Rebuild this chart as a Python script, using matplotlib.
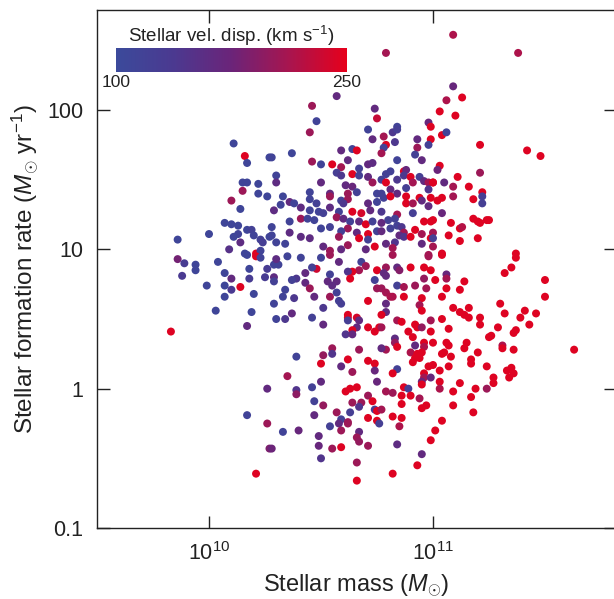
import numpy as np
import matplotlib
matplotlib.use('Agg')
import matplotlib.pyplot as plt
from matplotlib.colors import LinearSegmentedColormap, Normalize
from matplotlib.ticker import FixedLocator, FuncFormatter, NullLocator

plt.rcParams['font.family'] = ['Liberation Sans', 'DejaVu Sans']
plt.rcParams['mathtext.fontset'] = 'custom'
plt.rcParams['mathtext.rm'] = 'Liberation Sans'
plt.rcParams['mathtext.it'] = 'Liberation Sans:italic'
plt.rcParams['mathtext.bf'] = 'Liberation Sans:bold'

# log10 stellar mass (Msun)
log_mass = [
    10.11, 10.16, 10.17, 10.27, 10.15, 10.17, 10.22, 10.15, 10.22, 10.26,
    10.10, 10.14, 10.07, 10.10, 10.13, 10.17, 10.19, 10.13, 10.11, 10.20,
    10.23, 10.24, 10.14, 10.09, 10.16, 10.21, 10.23, 10.27, 10.00, 9.86,
    9.86, 9.89, 9.94, 9.94, 10.04, 9.88, 9.99, 10.07, 10.07, 10.10,
    10.10, 10.14, 10.07, 10.18, 10.18, 10.25, 10.26, 10.20, 10.03, 10.19,
    10.17, 9.83, 10.26, 10.17, 10.26, 10.27, 10.21, 10.21, 10.17, 10.23,
    10.57, 10.46, 10.74, 10.48, 10.45, 10.75, 10.71, 10.73, 10.64, 10.66,
    10.59, 10.37, 10.28, 10.46, 10.50, 10.55, 10.59, 10.62, 10.67, 10.71,
    10.73, 10.57, 10.59, 10.64, 10.67, 10.71, 10.73, 10.30, 10.30, 10.50,
    10.61, 10.64, 10.66, 10.62, 10.75, 10.45, 10.54, 10.33, 10.45, 10.54,
    10.59, 10.62, 10.71, 10.75, 10.36, 10.41, 10.32, 10.29, 10.38, 10.48,
    10.49, 10.51, 10.45, 10.54, 10.58, 10.64, 10.68, 10.72, 10.60, 10.41,
    10.36, 10.44, 10.47, 10.57, 10.60, 10.63, 10.67, 10.70, 10.73, 10.28,
    10.50, 10.54, 10.62, 10.59, 10.66, 10.71, 10.75, 10.36, 10.41, 10.28,
    10.45, 10.58, 10.67, 10.71, 10.30, 10.34, 10.51, 10.54, 10.59, 10.62,
    10.70, 10.74, 11.09, 10.79, 11.09, 11.06, 11.13, 11.03, 11.10, 10.98,
    10.99, 10.84, 10.82, 10.84, 10.78, 10.83, 10.93, 10.99, 11.04, 11.06,
    11.21, 10.79, 10.78, 10.77, 10.93, 10.98, 10.92, 10.84, 10.95, 11.03,
    11.02, 10.87, 10.88, 10.81, 10.79, 10.87, 11.11, 11.21, 10.77, 10.84,
    10.90, 10.94, 10.96, 11.00, 10.98, 11.00, 10.91, 10.79, 11.05, 11.09,
    11.16, 10.88, 10.98, 10.81, 10.77, 10.84, 11.22, 10.78, 10.81, 10.88,
    10.94, 10.99, 11.04, 11.09, 11.18, 11.22, 10.95, 11.02, 11.22, 10.88,
    10.91, 10.98, 10.77, 10.91, 11.04, 10.84, 10.80, 10.83, 10.96, 11.00,
    10.99, 11.08, 11.18, 11.20, 11.21, 11.24, 10.77, 10.81, 10.84, 10.86,
    10.87, 10.92, 10.95, 11.00, 11.12, 11.13, 10.77, 10.85, 10.87, 10.90,
    10.99, 11.00, 11.07, 11.20, 10.79, 10.83, 10.82, 10.95, 11.00, 11.12,
    10.98, 11.04, 11.38, 11.42, 11.48, 11.25, 11.37, 10.29, 10.31, 10.30,
    10.35, 10.41, 10.50, 10.58, 10.54, 10.68, 10.70, 10.67, 10.64, 10.62,
    10.48, 10.46, 10.43, 10.39, 10.37, 10.29, 10.29, 10.54, 10.53, 10.57,
    10.55, 10.63, 10.74, 10.75, 10.43, 10.45, 10.34, 10.33, 10.38, 10.47,
    10.54, 10.57, 10.58, 10.59, 10.75, 10.71, 10.29, 10.51, 10.37, 10.46,
    10.30, 10.34, 10.51, 10.62, 10.62, 10.66, 10.67, 10.62, 10.66, 10.64,
    10.61, 10.64, 10.71, 10.74, 10.76, 10.55, 10.55, 10.51, 10.39, 10.67,
    10.50, 10.59, 10.62, 10.71, 10.74, 10.74, 10.64, 10.35, 10.50, 10.46,
    10.75, 10.39, 10.39, 10.61, 10.63, 10.66, 10.71, 10.47, 10.51, 10.64,
    10.68, 10.73, 10.67, 10.74, 10.75, 10.47, 10.57, 10.63, 10.59, 10.58,
    10.62, 10.62, 10.71, 10.75, 10.54, 10.59, 10.67, 10.66, 10.67, 10.49,
    10.33, 10.40, 10.49, 10.55, 10.59, 10.71, 10.28, 10.50, 10.66, 10.66,
    10.82, 10.98, 11.04, 10.79, 10.78, 10.84, 10.85, 10.90, 10.96, 10.99,
    10.96, 11.01, 11.06, 11.06, 11.14, 10.79, 10.84, 10.87, 10.92, 10.97,
    11.06, 11.12, 10.77, 10.79, 10.81, 10.82, 10.87, 10.95, 11.04, 10.79,
    10.94, 10.95, 11.09, 11.16, 11.12, 11.14, 11.16, 11.21, 11.21, 10.79,
    10.77, 10.84, 10.86, 10.92, 10.93, 10.95, 10.99, 11.04, 11.07, 10.99,
    10.89, 10.77, 10.91, 10.83, 10.83, 10.84, 10.79, 10.77, 10.92, 10.96,
    11.00, 11.06, 11.07, 11.15, 11.14, 11.25, 10.96, 10.95, 10.90, 10.93,
    10.94, 10.92, 10.91, 11.04, 11.05, 11.08, 11.20, 11.17, 11.17, 11.24,
    11.07, 11.03, 11.00, 10.98, 10.84, 10.82, 10.96, 10.96, 10.99, 10.95,
    10.95, 11.03, 11.12, 10.87, 10.89, 10.90, 10.79, 10.82, 10.86, 11.03,
    11.09, 11.19, 11.24, 11.17, 10.86, 10.94, 10.95, 10.97, 11.09, 11.18,
    10.77, 10.82, 10.86, 10.85, 11.04, 11.01, 10.99, 10.76, 10.84, 10.95,
    10.93, 10.82, 11.37, 11.35, 11.32, 11.50, 11.50, 11.30, 11.32, 11.41,
    11.46, 11.39, 11.43, 11.29, 11.26, 11.37, 11.36, 11.31, 11.31, 11.36,
    11.63, 11.33, 11.35, 11.36, 11.34, 11.27, 11.27,
]

# log10 star formation rate (Msun / yr)
log_sfr = [
    1.76, 1.67, 1.62, 1.66, 1.48, 1.48, 1.47, 1.42, 1.40, 1.38,
    1.35, 1.29, 1.19, 1.18, 1.17, 1.14, 1.14, 1.11, 1.09, 1.10,
    1.07, 1.05, 1.05, 1.00, 0.97, 0.97, 0.99, 1.09, 1.11, 1.07,
    0.93, 0.90, 0.89, 0.85, 0.91, 0.81, 0.74, 0.83, 0.74, 0.79,
    0.71, 0.73, 0.66, 0.86, 0.79, 0.80, 0.86, 0.68, 0.56, 0.55,
    0.45, 0.41, 0.00, -0.19, -0.25, -0.43, -0.61, 0.95, 0.96, 0.94,
    2.10, 2.03, 2.01, 1.92, 1.84, 1.94, 1.86, 1.79, 1.72, 1.71,
    1.71, 1.69, 1.66, 1.63, 1.61, 1.61, 1.59, 1.64, 1.58, 1.61,
    1.62, 1.55, 1.53, 1.54, 1.53, 1.52, 1.48, 1.53, 1.48, 1.48,
    1.46, 1.45, 1.41, 1.40, 1.40, 1.41, 1.40, 1.38, 1.36, 1.38,
    1.35, 1.36, 1.33, 1.34, 1.34, 1.30, 1.32, 1.28, 1.33, 1.33,
    1.27, 1.26, 1.28, 1.30, 1.27, 1.27, 1.26, 1.28, 1.33, 1.22,
    1.20, 1.22, 1.21, 1.23, 1.22, 1.20, 1.20, 1.18, 1.20, 1.16,
    1.15, 1.16, 1.15, 1.13, 1.12, 1.11, 1.13, 1.12, 1.09, 1.10,
    1.08, 1.09, 1.08, 1.07, 1.05, 1.04, 1.02, 0.99, 1.00, 1.03,
    1.00, 1.02, 2.54, 2.41, 2.17, 2.07, 2.09, 1.99, 1.96, 1.91,
    1.88, 1.88, 1.84, 1.86, 1.81, 1.77, 1.79, 1.79, 1.82, 1.84,
    1.75, 1.75, 1.73, 1.69, 1.73, 1.75, 1.68, 1.64, 1.64, 1.60,
    1.57, 1.56, 1.57, 1.56, 1.54, 1.53, 1.52, 1.55, 1.50, 1.50,
    1.52, 1.52, 1.49, 1.48, 1.48, 1.48, 1.48, 1.48, 1.48, 1.45,
    1.45, 1.44, 1.43, 1.43, 1.40, 1.40, 1.41, 1.37, 1.38, 1.38,
    1.37, 1.37, 1.37, 1.38, 1.36, 1.38, 1.35, 1.35, 1.33, 1.33,
    1.33, 1.31, 1.27, 1.26, 1.26, 1.25, 1.21, 1.22, 1.20, 1.21,
    1.20, 1.19, 1.22, 1.20, 1.19, 1.21, 1.19, 1.15, 1.17, 1.16,
    1.12, 1.14, 1.11, 1.12, 1.15, 1.16, 1.13, 1.10, 1.09, 1.09,
    1.08, 1.08, 1.10, 1.08, 1.04, 1.05, 1.01, 1.04, 1.02, 1.06,
    0.96, 0.97, 2.41, 1.71, 1.67, 1.21, 0.97, 0.89, 0.89, 0.93,
    0.95, 0.94, 0.94, 0.91, 0.96, 0.91, 0.88, 0.85, 0.84, 0.84,
    0.86, 0.87, 0.83, 0.79, 0.78, 0.80, 0.77, 0.82, 0.77, 0.77,
    0.74, 0.79, 0.78, 0.85, 0.76, 0.72, 0.71, 0.66, 0.65, 0.66,
    0.66, 0.69, 0.63, 0.61, 0.72, 0.63, 0.61, 0.58, 0.54, 0.51,
    0.50, 0.50, 0.46, 0.53, 0.51, 0.51, 0.49, 0.49, 0.44, 0.42,
    0.39, 0.39, 0.44, 0.41, 0.44, 0.29, 0.25, 0.24, 0.23, 0.28,
    0.18, 0.16, 0.21, 0.20, 0.18, 0.13, 0.12, 0.09, 0.05, 0.01,
    0.05, -0.01, -0.04, -0.02, 0.00, 0.01, -0.05, -0.09, -0.12, -0.10,
    -0.10, -0.09, -0.13, -0.15, -0.16, -0.19, -0.17, -0.17, -0.22, -0.25,
    -0.24, -0.25, -0.21, -0.23, -0.27, -0.30, -0.31, -0.35, -0.38, -0.34,
    -0.31, -0.30, -0.41, -0.43, -0.42, -0.41, -0.43, -0.50, -0.53, -0.66,
    0.96, 0.95, 0.96, 0.87, 0.83, 0.87, 0.85, 0.87, 0.87, 0.85,
    0.79, 0.78, 0.82, 0.79, 0.77, 0.81, 0.74, 0.73, 0.74, 0.72,
    0.72, 0.71, 0.72, 0.69, 0.66, 0.66, 0.66, 0.65, 0.66, 0.61,
    0.60, 0.56, 0.58, 0.58, 0.55, 0.53, 0.51, 0.51, 0.46, 0.55,
    0.53, 0.49, 0.48, 0.46, 0.44, 0.44, 0.49, 0.50, 0.43, 0.41,
    0.41, 0.44, 0.37, 0.36, 0.33, 0.30, 0.28, 0.29, 0.31, 0.33,
    0.33, 0.33, 0.31, 0.33, 0.29, 0.37, 0.30, 0.26, 0.26, 0.25,
    0.22, 0.22, 0.19, 0.25, 0.26, 0.23, 0.26, 0.21, 0.18, 0.16,
    0.16, 0.13, 0.17, 0.16, 0.14, 0.11, 0.11, 0.08, 0.08, 0.05,
    0.03, 0.05, 0.04, 0.01, 0.00, -0.05, -0.02, -0.03, -0.05, 0.00,
    -0.02, 0.00, 0.00, -0.06, -0.11, -0.07, -0.14, -0.12, -0.12, -0.17,
    -0.15, -0.20, -0.21, -0.27, -0.23, -0.30, -0.37, -0.25, -0.40, -0.47,
    -0.55, -0.61, 0.94, 0.87, 0.83, 0.78, 0.66, 0.61, 0.54, 0.56,
    0.54, 0.51, 0.46, 0.44, 0.38, 0.42, 0.40, 0.31, 0.29, 0.28,
    0.28, 0.13, 0.15, 0.11, 0.08, 0.08, 0.04,
]

# stellar velocity dispersion (km/s)
vel_disp = [
    110, 245, 110, 110, 110, 110, 110, 205, 110, 110,
    205, 110, 110, 110, 110, 110, 120, 115, 110, 115,
    120, 125, 160, 150, 110, 245, 115, 110, 110, 110,
    180, 130, 110, 110, 110, 135, 110, 110, 110, 165,
    135, 245, 110, 110, 130, 130, 130, 110, 110, 110,
    165, 245, 165, 115, 205, 185, 245, 245, 110, 115,
    165, 205, 165, 115, 205, 230, 115, 165, 115, 245,
    165, 110, 115, 205, 115, 245, 210, 165, 120, 165,
    160, 125, 140, 245, 120, 165, 205, 115, 160, 165,
    165, 170, 120, 205, 115, 115, 165, 110, 115, 205,
    120, 205, 165, 115, 165, 160, 115, 160, 115, 120,
    115, 120, 115, 160, 120, 245, 240, 165, 140, 205,
    115, 115, 115, 205, 165, 120, 165, 245, 120, 115,
    115, 120, 205, 120, 165, 245, 120, 160, 160, 115,
    160, 205, 245, 120, 115, 115, 165, 205, 165, 205,
    165, 245, 215, 210, 170, 215, 245, 245, 245, 170,
    245, 115, 140, 125, 210, 140, 165, 245, 245, 115,
    245, 245, 120, 210, 205, 120, 120, 115, 165, 245,
    175, 245, 170, 120, 120, 140, 245, 205, 120, 140,
    245, 125, 165, 245, 210, 245, 210, 245, 165, 210,
    245, 125, 145, 165, 120, 165, 245, 120, 245, 245,
    245, 245, 245, 210, 245, 125, 165, 245, 125, 245,
    210, 165, 140, 125, 170, 210, 120, 120, 245, 245,
    245, 245, 245, 245, 245, 245, 165, 120, 120, 140,
    210, 245, 210, 210, 245, 220, 165, 165, 145, 245,
    245, 125, 245, 245, 165, 145, 210, 165, 210, 245,
    210, 245, 215, 245, 245, 245, 245, 115, 115, 160,
    115, 115, 115, 165, 205, 120, 205, 210, 245, 145,
    235, 120, 165, 140, 120, 160, 120, 120, 165, 165,
    160, 245, 120, 245, 165, 205, 115, 115, 140, 165,
    205, 120, 120, 125, 205, 245, 115, 140, 165, 120,
    115, 140, 165, 245, 245, 240, 165, 125, 165, 245,
    145, 165, 245, 245, 245, 205, 145, 200, 115, 205,
    245, 165, 245, 245, 245, 170, 205, 210, 165, 120,
    170, 145, 195, 245, 245, 245, 205, 120, 200, 205,
    205, 245, 145, 125, 245, 165, 205, 125, 120, 165,
    205, 205, 245, 245, 120, 205, 165, 205, 200, 165,
    115, 170, 170, 205, 245, 205, 175, 145, 205, 245,
    210, 210, 245, 205, 165, 165, 190, 245, 245, 245,
    200, 245, 170, 210, 245, 165, 120, 210, 205, 210,
    245, 245, 205, 210, 215, 215, 245, 245, 245, 165,
    210, 245, 245, 245, 245, 245, 245, 245, 245, 165,
    245, 210, 245, 245, 245, 200, 210, 245, 245, 245,
    245, 210, 245, 160, 200, 245, 210, 165, 165, 245,
    245, 245, 245, 245, 245, 245, 215, 245, 215, 245,
    245, 245, 245, 245, 245, 245, 245, 245, 245, 245,
    245, 245, 245, 245, 120, 245, 245, 210, 170, 175,
    245, 245, 245, 245, 125, 245, 210, 205, 245, 215,
    245, 245, 205, 245, 245, 210, 245, 245, 245, 245,
    210, 245, 245, 215, 245, 245, 245, 125, 160, 165,
    245, 245, 245, 245, 245, 245, 245, 245, 245, 245,
    245, 245, 245, 245, 245, 245, 245, 215, 245, 245,
    245, 245, 245, 245, 245, 245, 245,
]

assert len(log_mass) == len(log_sfr) == len(vel_disp), (len(log_mass), len(log_sfr), len(vel_disp))

cbar_ticks = [100, 250]
x_ticks = [1e10, 1e11]
y_ticks = [0.1, 1, 10, 100]

cmap = LinearSegmentedColormap.from_list(
    'vdisp', ['#3b4a9b', '#4b3990', '#6b2479', '#a8154f', '#e6001c'])
norm = Normalize(vmin=100, vmax=250)

fig = plt.figure(figsize=(6.14, 5.99), dpi=100)
ax = fig.add_axes([97 / 614, 71 / 599, 519 / 614, 518 / 599])

mass = 10 ** np.array(log_mass)
sfr = 10 ** np.array(log_sfr)
sc = ax.scatter(mass, sfr, c=vel_disp, cmap=cmap, norm=norm, s=33,
                linewidths=0, zorder=3)

ax.set_xscale('log')
ax.set_yscale('log')
ax.set_xlim(10 ** 9.5, 10 ** 11.817)
ax.set_ylim(0.1, 10 ** 2.718)
ax.xaxis.set_major_locator(FixedLocator(x_ticks))
ax.yaxis.set_major_locator(FixedLocator(y_ticks))
ax.xaxis.set_minor_locator(NullLocator())
ax.yaxis.set_minor_locator(NullLocator())
ax.xaxis.set_major_formatter(FuncFormatter(lambda v, p: r'$10^{%d}$' % round(np.log10(v))))
ax.yaxis.set_major_formatter(FuncFormatter(lambda v, p: f'{v:g}'))
ax.tick_params(which='major', direction='in', length=9, width=1,
               top=True, right=True, labelsize=15.5, pad=10, colors='#222222')
for s in ax.spines.values():
    s.set_linewidth(1)
    s.set_color('#222222')

ax.set_xlabel(r'Stellar mass ($M_{\odot}$)', fontsize=17, color='#222222', labelpad=5)
ax.set_ylabel(r'Stellar formation rate ($M_{\odot}$ yr$^{-1}$)', fontsize=17.5,
              color='#222222', labelpad=4)

cax = fig.add_axes([116 / 614, 1 - 72 / 599, 231 / 614, 24 / 599])
cb = fig.colorbar(sc, cax=cax, orientation='horizontal', ticks=cbar_ticks)
cb.outline.set_visible(False)
cax.tick_params(length=0, labelsize=12.5, pad=2, colors='#222222')
cax.set_title(r'Stellar vel. disp. (km s$^{-1}$)', fontsize=13.5, pad=4, color='#222222')

fig.savefig('out.png', dpi=100)
